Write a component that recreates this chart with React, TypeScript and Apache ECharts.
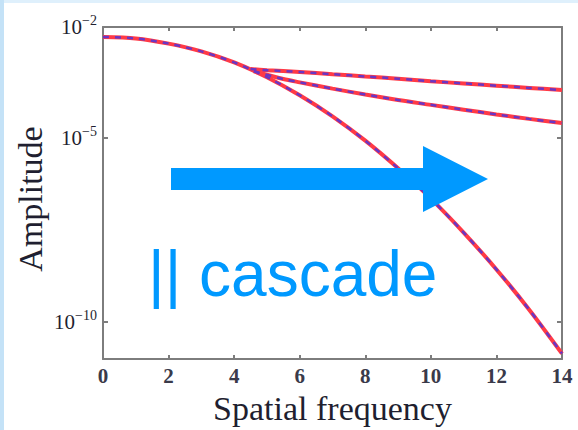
import React, { useEffect, useRef } from "react";
import * as echarts from "echarts";

// x positions (spatial frequency)
const mainX = [0, 1, 2, 3, 4, 5, 6, 7, 8, 9, 10, 11, 12, 13, 14];
// log10(amplitude)
const mainLogAmp = [-2.27, -2.31, -2.45, -2.66, -2.96, -3.36, -3.85, -4.42, -5.08, -5.83, -6.65, -7.57, -8.57, -9.66, -10.85];

const upperX = [4.5, 5, 6, 7, 8, 9, 10, 11, 12, 13, 14];
const upperLogAmp = [-3.14, -3.17, -3.22, -3.28, -3.34, -3.4, -3.47, -3.53, -3.59, -3.65, -3.71];

const lowerX = [4.6, 5.5, 6, 7, 8, 9, 10, 11, 12, 13, 14];
const lowerLogAmp = [-3.2, -3.41, -3.5, -3.67, -3.83, -3.98, -4.11, -4.24, -4.37, -4.49, -4.6];

const yLabelExps = [-10, -5, -2];
const yTickExps = [-10, -5];

const xName = "Spatial frequency";
const yName = "Amplitude";
const annotation = "|| cascade";

const RED = "#ff3a46";
const PURPLE = "#6a36c4";
const BLUE = "#0099ff";
const AXIS = "#7d7d7d";
const TXT = "#1f1f30";
const SERIF = "Liberation Serif";

function pairs(xs: number[], ys: number[]) {
  return xs.map((x, i) => [x, ys[i]]);
}

export default function App() {
  const ref = useRef<HTMLDivElement>(null);
  useEffect(() => {
    if (!ref.current) return;
    const chart = echarts.init(ref.current, undefined, { renderer: "svg" });
    const curves = [pairs(mainX, mainLogAmp), pairs(upperX, upperLogAmp), pairs(lowerX, lowerLogAmp)];
    const series: any[] = [];
    curves.forEach((d, i) => {
      series.push({
        type: "line",
        name: "c" + i + "r",
        data: d,
        smooth: 0.3,
        showSymbol: false,
        lineStyle: { color: RED, width: 4 },
        z: 2,
      });
    });
    curves.forEach((d, i) => {
      series.push({
        type: "line",
        name: "c" + i + "p",
        data: d,
        smooth: 0.3,
        showSymbol: false,
        lineStyle: { color: PURPLE, width: 2.5, type: [6, 6] },
        z: 3,
      });
    });
    const yFmt = (v: number) => `{b|10}{s|${v < 0 ? "\u2212" : ""}${Math.abs(v)}}`;
    chart.setOption({
      animation: false,
      backgroundColor: "#ffffff",
      textStyle: { fontFamily: SERIF },
      grid: { left: 103, right: 16, top: 27, bottom: 66, containLabel: false },
      xAxis: [
        {
          type: "value",
          min: 0,
          max: 14,
          interval: 2,
          position: "bottom",
          name: xName,
          nameLocation: "middle",
          nameGap: 24,
          nameTextStyle: { fontFamily: SERIF, fontSize: 34, color: TXT },
          axisLine: { show: true, lineStyle: { color: AXIS, width: 2 } },
          axisTick: { show: true, inside: true, length: 4, lineStyle: { color: AXIS, width: 2 } },
          axisLabel: { fontFamily: SERIF, fontSize: 21, fontWeight: "bold", color: "#3a3a4a", margin: 6 },
          splitLine: { show: false },
        },
        {
          type: "value",
          min: 0,
          max: 14,
          interval: 2,
          position: "top",
          axisLine: { show: true, onZero: false, lineStyle: { color: AXIS, width: 2 } },
          axisTick: { show: true, inside: true, length: 4, lineStyle: { color: AXIS, width: 2 } },
          axisLabel: { show: false },
          splitLine: { show: false },
        },
      ],
      yAxis: [
        {
          type: "value",
          min: -11,
          max: -2,
          interval: 1,
          position: "left",
          axisLine: { show: true, onZero: false, lineStyle: { color: AXIS, width: 2 } },
          axisTick: { show: true, inside: true, length: 5, customValues: yTickExps, lineStyle: { color: AXIS, width: 2 } },
          axisLabel: {
            customValues: yLabelExps,
            margin: 6,
            formatter: yFmt,
            rich: {
              b: { fontFamily: SERIF, fontSize: 21, color: TXT },
              s: { fontFamily: SERIF, fontSize: 14, color: TXT, padding: [0, 0, 13, 0] },
            },
          },
          splitLine: { show: false },
        },
        {
          type: "value",
          min: -11,
          max: -2,
          interval: 1,
          position: "right",
          axisLine: { show: true, onZero: false, lineStyle: { color: AXIS, width: 2 } },
          axisTick: { show: true, inside: true, length: 5, customValues: yTickExps, lineStyle: { color: AXIS, width: 2 } },
          axisLabel: { show: false },
          splitLine: { show: false },
        },
      ],
      graphic: [
        { type: "rect", shape: { x: 0, y: 0, width: 578, height: 3 }, style: { fill: "#dff0fc" }, z: 0 },
        { type: "rect", shape: { x: 0, y: 0, width: 4, height: 430 }, style: { fill: "#c4e2f7" }, z: 0 },
        {
          type: "text",
          x: 30,
          y: 199,
          rotation: Math.PI / 2,
          style: {
            text: yName,
            font: "34px 'Liberation Serif', serif",
            fill: TXT,
            align: "center",
            verticalAlign: "middle",
          },
          z: 5,
        },
        {
          type: "polygon",
          shape: {
            points: [
              [171, 168],
              [423, 168],
              [423, 146],
              [488, 179],
              [423, 212],
              [423, 190],
              [171, 190],
            ],
          },
          style: { fill: BLUE },
          z: 10,
        },
        {
          type: "text",
          x: 148,
          y: 274,
          style: {
            text: annotation,
            font: "64px 'Liberation Sans', Arial, sans-serif",
            fill: BLUE,
            verticalAlign: "middle",
            align: "left",
          },
          z: 10,
        },
      ],
      series,
    });
    return () => chart.dispose();
  }, []);
  return (
    <div style={{ position: "fixed", left: 0, top: 0, width: 578, height: 430 }}>
      <div ref={ref} style={{ width: 578, height: 430 }} />
    </div>
  );
}
